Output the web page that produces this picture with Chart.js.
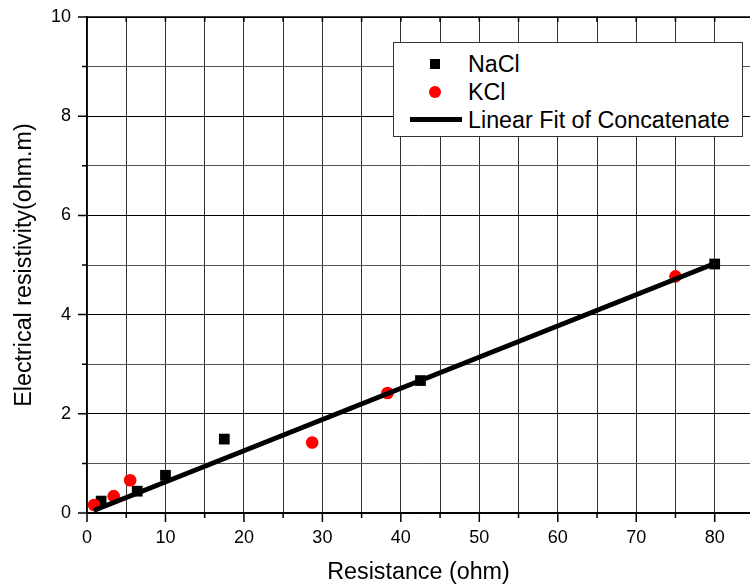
<!DOCTYPE html>
<html>
<head>
<meta charset="utf-8">
<script src="https://cdn.jsdelivr.net/npm/chart.js@4.4.0/dist/chart.umd.min.js"></script>
<style>
html, body { margin: 0; padding: 0; background: #fff; }
#wrap { position: relative; width: 750px; height: 587px; }
#legend {
    position: absolute; left: 393px; top: 42px; width: 350px; height: 95px;
    box-sizing: border-box; border: 1px solid #333; background: #fff;
    font-family: "Liberation Sans", Arial, sans-serif; font-size: 23.3px; color: #000;
}
.item { position: absolute; left: 74px; height: 28px; line-height: 28px; white-space: nowrap; }
.mark { position: absolute; }
</style>
</head>
<body>
<div id="wrap">
    <canvas id="chart" width="750" height="587"></canvas>
    <div id="legend">
        <div class="mark" style="left:36px; top:16px; width:10px; height:10px; background:#000;"></div>
        <div class="item" style="top:7px;">NaCl</div>
        <div class="mark" style="left:35px; top:43px; width:12px; height:12px; border-radius:50%; background:#f00;"></div>
        <div class="item" style="top:35px;">KCl</div>
        <div class="mark" style="left:16px; top:74px; width:52px; height:5px; background:#000;"></div>
        <div class="item" style="top:63px;">Linear Fit of Concatenate</div>
    </div>
</div>
<script>
// values
const naclX = [1.8, 6.4, 10.0, 17.5, 42.5, 80.0];
const naclY = [0.24, 0.44, 0.76, 1.49, 2.67, 5.02];
const kclX = [0.9, 3.4, 5.5, 28.7, 38.3, 75.0];
const kclY = [0.16, 0.34, 0.66, 1.42, 2.42, 4.77];
const fitX = [0.85, 80.0];
const fitY = [0.05, 5.03];
const xTickLabels = [0, 10, 20, 30, 40, 50, 60, 70, 80];
const yTickLabels = [0, 2, 4, 6, 8, 10];

const FONT = '"Liberation Sans", Arial, sans-serif';

function toPoints(xs, ys) {
    return xs.map((x, i) => ({ x: x, y: ys[i] }));
}

// top border and the little tick marks
const framePlugin = {
    id: 'frame',
    afterDraw(chart) {
        const ctx = chart.ctx;
        const a = chart.chartArea;
        const x = chart.scales.x;
        const y = chart.scales.y;
        ctx.save();
        ctx.strokeStyle = '#000';
        ctx.lineWidth = 1.5;
        ctx.beginPath();
        ctx.moveTo(a.left, a.top);
        ctx.lineTo(a.right, a.top);
        ctx.stroke();
        ctx.beginPath();
        for (let v = 0; v <= 80; v += 5) {
            const px = x.getPixelForValue(v);
            const len = xTickLabels.includes(v) ? 9 : 5;
            ctx.moveTo(px, a.bottom);
            ctx.lineTo(px, a.bottom + len);
            ctx.moveTo(px, a.top);
            ctx.lineTo(px, a.top + 5);
        }
        for (let v = 0; v <= 10; v++) {
            const py = y.getPixelForValue(v);
            const len = yTickLabels.includes(v) ? 9 : 5;
            ctx.moveTo(a.left, py);
            ctx.lineTo(a.left - len, py);
        }
        ctx.stroke();
        ctx.restore();
    }
};

const ctx = document.getElementById('chart').getContext('2d');
new Chart(ctx, {
    type: 'scatter',
    data: {
        datasets: [
            {
                label: 'Linear Fit of Concatenate',
                type: 'line',
                data: toPoints(fitX, fitY),
                borderColor: '#000',
                borderWidth: 5,
                pointRadius: 0,
                fill: false,
                order: 0
            },
            {
                label: 'KCl',
                data: toPoints(kclX, kclY),
                pointStyle: 'circle',
                pointRadius: 6.3,
                backgroundColor: '#f00',
                borderColor: '#f00',
                borderWidth: 0,
                order: 1
            },
            {
                label: 'NaCl',
                data: toPoints(naclX, naclY),
                pointStyle: 'rect',
                pointRadius: 7.6,
                backgroundColor: '#000',
                borderColor: '#000',
                borderWidth: 0,
                order: 2
            }
        ]
    },
    options: {
        responsive: false,
        animation: false,
        layout: { autoPadding: false, padding: { top: 17, right: 0, left: 0, bottom: 0 } },
        plugins: {
            legend: { display: false },
            tooltip: { enabled: false }
        },
        scales: {
            x: {
                type: 'linear',
                bounds: 'data',
                min: 0,
                max: 84.5,
                afterFit: s => {
                    s.height = 74;
                    s.paddingLeft = 0;
                    s.paddingRight = 0;
                },
                border: { color: '#000', width: 1.5 },
                grid: {
                    drawTicks: false,
                    color: '#333',
                    lineWidth: 1
                },
                ticks: {
                    stepSize: 5,
                    includeBounds: false,
                    maxRotation: 0,
                    autoSkip: false,
                    padding: 14,
                    color: '#000',
                    font: { family: FONT, size: 18 },
                    callback: v => xTickLabels.includes(v) ? String(v) : ''
                },
                title: {
                    display: true,
                    text: 'Resistance (ohm)',
                    color: '#000',
                    font: { family: FONT, size: 23.3 },
                    padding: { top: 0, bottom: 0 }
                }
            },
            y: {
                type: 'linear',
                min: 0,
                max: 10,
                afterFit: s => {
                    s.width = 87;
                    s.paddingTop = 0;
                    s.paddingBottom = 0;
                },
                border: { color: '#000', width: 1.5 },
                grid: {
                    drawTicks: false,
                    color: c => yTickLabels.includes(c.tick.value) ? '#000' : '#555',
                    lineWidth: 1
                },
                ticks: {
                    stepSize: 1,
                    autoSkip: false,
                    padding: 16,
                    color: '#000',
                    font: { family: FONT, size: 18 },
                    callback: v => yTickLabels.includes(v) ? String(v) : ''
                },
                title: {
                    display: true,
                    text: 'Electrical resistivity(ohm.m)',
                    color: '#000',
                    font: { family: FONT, size: 23.3 },
                    padding: { top: 11, bottom: 0 }
                }
            }
        }
    },
    plugins: [framePlugin]
});
</script>
</body>
</html>
